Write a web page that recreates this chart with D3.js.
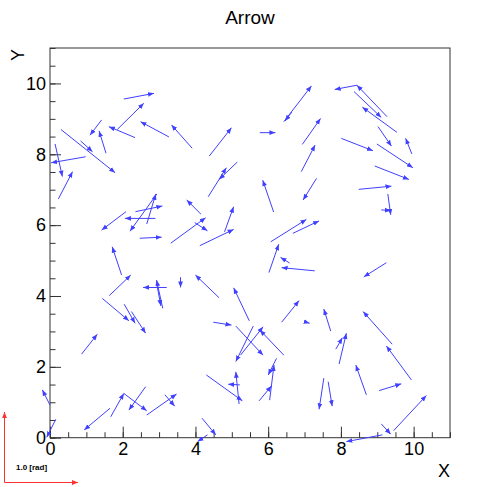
<!DOCTYPE html>
<html lang="en">
<head>
<meta charset="utf-8">
<title>Arrow</title>
<style>
  body { margin: 0; background: white; }
  svg text { font-family: "Liberation Sans", Arial, sans-serif; }
</style>
</head>
<body>
<svg id="chart" width="500" height="487"></svg>
<script src="https://d3js.org/d3.v7.min.js"></script>
<script>
// arrow tails (x0,y0) and heads (x1,y1), in axis units
const x0 = [2.03,1.85,2.34,3.27,1.42,1.54,0.30,0.84,0.98,0.14,0.23,6.43,6.65,5.77,6.94,6.91,7.33,3.91,4.38,5.15,
            4.35,6.15,4.15,4.80,9.27,8.44,8.36,9.54,9.02,8.01,9.95,8.99,8.93,8.49,9.29,9.11,9.25,7.72,9.41,7.86,
            7.95,9.94,8.70,9.05,9.45,9.11,9.14,7.53,7.65,5.11,5.59,5.24,6.43,6.23,6.04,5.75,4.30,5.20,5.22,4.18,
            4.33,2.63,2.03,1.67,1.65,0.87,0.00,0.16,2.66,3.16,2.09,2.35,2.90,2.94,2.66,2.47,1.97,1.63,3.21,3.10,
            2.93,1.44,2.04,2.24,3.32,3.98,4.12,6.07,6.68,6.02,6.59,7.28,3.59,4.65,5.48,6.37,7.02,4.49];
const y0 = [9.56,8.70,8.47,8.49,8.97,8.03,8.70,8.38,7.93,8.29,6.74,8.92,9.19,8.61,8.28,7.51,7.32,8.17,7.95,7.78,
            6.80,6.37,6.31,5.81,9.06,9.95,9.77,8.62,8.78,8.45,8.01,8.29,7.67,7.01,6.88,6.43,4.94,3.01,2.64,2.50,
            2.08,1.63,1.21,1.33,0.20,0.39,0.08,1.68,1.58,3.15,3.15,2.33,2.33,2.24,1.06,1.04,1.77,0.95,1.49,0.55,
            0.08,1.44,1.25,0.59,0.83,2.36,0.92,0.52,0.64,1.21,6.38,6.38,6.19,6.88,6.03,5.63,4.59,4.01,4.24,3.65,
            4.37,3.93,3.77,3.56,5.49,6.07,5.42,5.53,5.77,4.66,4.93,4.71,4.53,3.95,3.30,3.26,3.27,3.26];
const x1 = [2.86,2.58,1.62,2.49,1.10,1.35,1.79,1.17,0.03,0.34,0.62,7.19,6.46,6.20,7.44,7.29,6.96,3.34,4.99,4.65,
            4.85,5.85,3.76,5.05,8.44,7.83,9.11,8.59,9.39,8.88,9.78,9.98,9.87,9.39,9.37,9.37,8.63,7.53,8.61,8.04,
            8.15,9.25,8.41,9.66,10.35,9.37,8.15,7.40,7.76,5.86,5.11,5.86,5.77,6.00,6.16,6.09,5.29,5.11,4.90,4.56,
            4.06,2.17,2.66,2.03,0.94,1.30,-0.21,-0.09,3.48,3.43,1.42,3.09,2.06,2.20,2.91,3.07,1.71,2.22,2.56,2.93,
            3.05,2.17,2.34,2.63,4.28,4.33,5.05,7.05,7.40,6.29,6.34,6.37,3.59,4.00,5.05,6.85,7.14,4.99];
const y1 = [9.72,9.44,8.78,8.92,8.54,8.66,7.48,8.07,7.76,7.37,7.51,9.93,8.94,8.61,9.01,8.26,6.71,8.83,8.75,7.29,
            7.62,7.27,6.71,6.52,9.95,9.83,9.04,9.33,8.23,8.10,8.45,7.62,7.29,7.10,6.29,6.41,4.54,3.63,3.56,2.82,
            2.95,2.59,2.05,1.52,1.19,0.10,-0.11,0.80,0.89,2.33,2.15,3.13,3.04,1.77,2.05,1.46,1.04,1.86,1.51,0.08,
            -0.11,0.78,0.76,1.25,0.22,2.92,1.35,0.01,1.23,0.89,5.86,6.54,6.19,5.83,6.88,5.66,5.39,4.59,4.24,4.45,
            3.72,3.30,3.23,2.95,6.21,5.84,5.88,6.16,6.12,5.46,5.09,4.80,4.24,4.59,4.23,3.87,3.23,3.18];
const xTicks = [0, 2, 4, 6, 8, 10];
const yTicks = [0, 2, 4, 6, 8, 10];

const svg = d3.select("#chart");
const mLeft = 50, mRight = 450, mTop = 48, mBottom = 437.7;

const x = d3.scaleLinear().domain([0, 11]).range([mLeft, mRight]);
const y = d3.scaleLinear().domain([0, 11]).range([mBottom, mTop]);

const defs = svg.append("defs");
function addHead(id, color) {
    defs.append("marker")
        .attr("id", id)
        .attr("viewBox", "0 0 10 10")
        .attr("refX", 10).attr("refY", 5)
        .attr("markerWidth", 6).attr("markerHeight", 6)
        .attr("markerUnits", "userSpaceOnUse")
        .attr("orient", "auto")
      .append("path")
        .attr("d", "M0,1 L10,5 L0,9 Z")
        .attr("fill", color);
}
addHead("head", "#4040ff");
addHead("redhead", "#ff3030");

// frame
svg.append("rect")
    .attr("x", mLeft).attr("y", mTop)
    .attr("width", mRight - mLeft).attr("height", mBottom - mTop)
    .attr("fill", "none").attr("stroke", "#333").attr("stroke-width", 1);

// minor ticks
const minor = d3.range(0, 11.01, 0.5);
svg.append("g").attr("transform", `translate(0,${mBottom})`)
    .call(d3.axisBottom(x).tickValues(minor).tickSize(-5.5).tickFormat(""))
    .call(g => g.select(".domain").remove());
svg.append("g").attr("transform", `translate(${mLeft},0)`)
    .call(d3.axisLeft(y).tickValues(minor).tickSize(-5.5).tickFormat(""))
    .call(g => g.select(".domain").remove());

// major ticks + labels
svg.append("g").attr("transform", `translate(0,${mBottom})`)
    .call(d3.axisBottom(x).tickValues(xTicks).tickSize(-11).tickPadding(5).tickFormat(d3.format("d")))
    .call(g => g.select(".domain").remove())
    .call(g => g.selectAll("text").attr("font-size", 18).attr("fill", "#000")
        .attr("font-family", "Liberation Sans, Arial, sans-serif"));
svg.append("g").attr("transform", `translate(${mLeft},0)`)
    .call(d3.axisLeft(y).tickValues(yTicks).tickSize(-11).tickPadding(4).tickFormat(d3.format("d")))
    .call(g => g.select(".domain").remove())
    .call(g => g.selectAll("text").attr("font-size", 18).attr("fill", "#000")
        .attr("font-family", "Liberation Sans, Arial, sans-serif"));
svg.selectAll(".tick line").attr("stroke", "#333");

// arrows
svg.append("g").selectAll("line")
    .data(d3.range(x0.length))
    .join("line")
    .attr("x1", i => x(x0[i])).attr("y1", i => y(y0[i]))
    .attr("x2", i => x(x1[i])).attr("y2", i => y(y1[i]))
    .attr("stroke", "#4040ff").attr("stroke-width", 1)
    .attr("marker-end", "url(#head)");

// titles
svg.append("text").attr("x", 250).attr("y", 24).attr("text-anchor", "middle")
    .attr("font-size", 19).text("Arrow");
svg.append("text").attr("x", 450).attr("y", 477).attr("text-anchor", "end")
    .attr("font-size", 18).text("X");
svg.append("text").attr("transform", "translate(24,49) rotate(-90)").attr("text-anchor", "end")
    .attr("font-size", 18).text("Y");

// scale legend
const leg = svg.append("g");
leg.append("line").attr("x1", 4.5).attr("y1", 482.5).attr("x2", 4.5).attr("y2", 412)
    .attr("stroke", "#ff3030").attr("marker-end", "url(#redhead)");
leg.append("line").attr("x1", 4.5).attr("y1", 482.5).attr("x2", 78).attr("y2", 482.5)
    .attr("stroke", "#ff3030").attr("marker-end", "url(#redhead)");
leg.append("text").attr("x", 16).attr("y", 470).attr("font-size", 8).attr("font-weight", "bold")
    .text("1.0 [rad]");
</script>
</body>
</html>
